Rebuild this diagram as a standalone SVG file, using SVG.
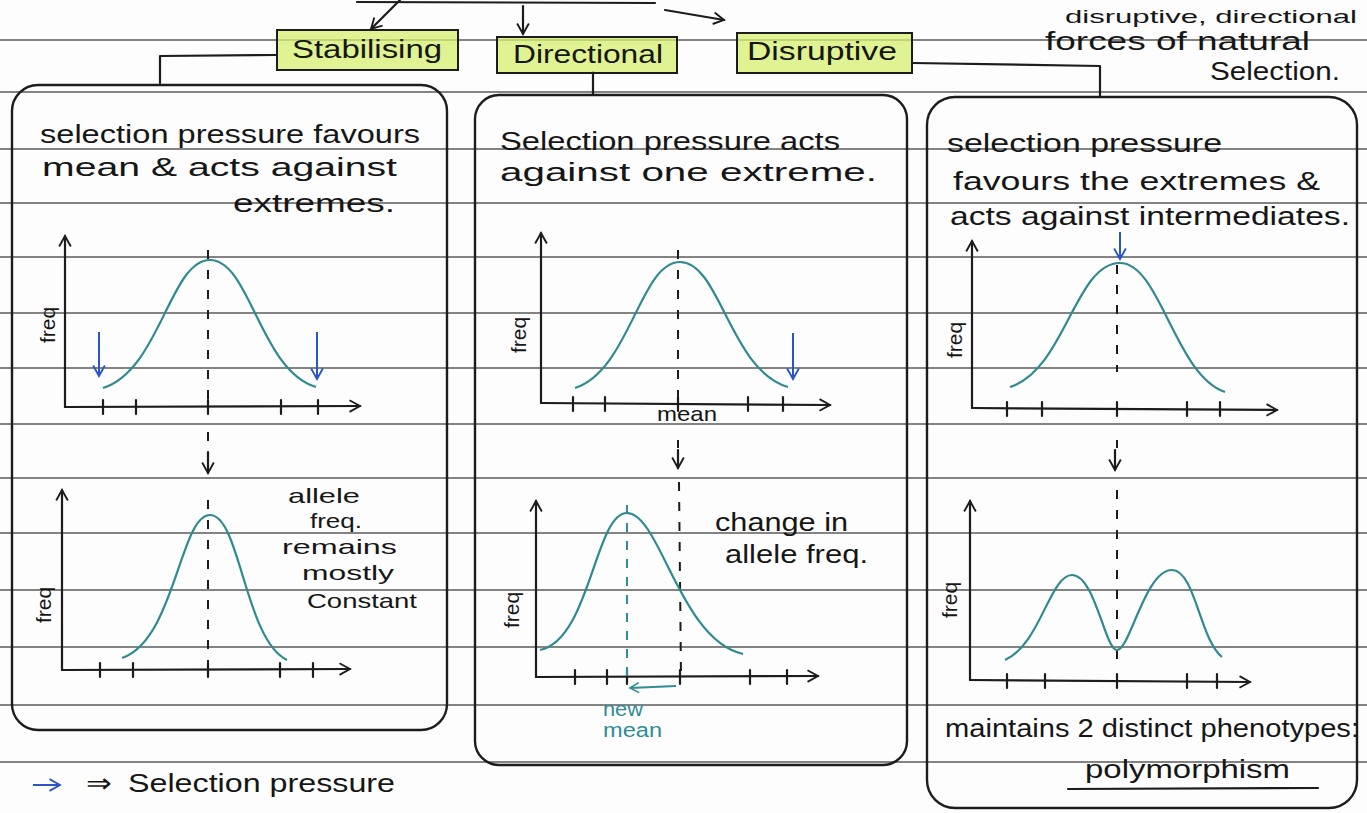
<svg xmlns="http://www.w3.org/2000/svg" width="1367" height="813" viewBox="0 0 1367 813">
<defs>
<style>
.rule{stroke:#5a5a5a;stroke-width:1.4;fill:none}
.ink{stroke:#1c1c1c;stroke-width:2.2;fill:none;stroke-linecap:round;stroke-linejoin:round}
.box{stroke:#1c1c1c;stroke-width:2;fill:#d6ef6e;fill-opacity:0.75}
.panel{stroke:#1c1c1c;stroke-width:2.4;fill:none}
.dash{stroke:#1c1c1c;stroke-width:2;fill:none;stroke-dasharray:9 11}
.tdash{stroke:#2f8d94;stroke-width:2;fill:none;stroke-dasharray:9 9}
.curve{stroke:#2f8a8f;stroke-width:2.2;fill:none}
.blue{stroke:#2a55c8;stroke-width:2;fill:none}
.teal{stroke:#2f8d94;stroke-width:2.2;fill:none}
.t{font-family:"Liberation Sans",Arial,sans-serif;font-size:26px;fill:#161616}
.ts{font-family:"Liberation Sans",Arial,sans-serif;font-size:21px;fill:#161616}
.tl{font-family:"Liberation Sans",Arial,sans-serif;font-size:25px;fill:#161616;text-anchor:middle}
.fq{font-family:"Liberation Sans",Arial,sans-serif;font-size:21px;fill:#161616;text-anchor:middle}
.tt{font-family:"Liberation Sans",Arial,sans-serif;font-size:20px;fill:#2f8d94}
</style>
<marker id="ah" viewBox="0 0 12 12" refX="10" refY="6" markerWidth="14" markerHeight="14" markerUnits="userSpaceOnUse" orient="auto">
<path d="M1,1 L10,6 L1,11" fill="none" stroke="#1c1c1c" stroke-width="1.6"/>
</marker>
<marker id="ahb" viewBox="0 0 12 12" refX="10" refY="6" markerWidth="14" markerHeight="14" markerUnits="userSpaceOnUse" orient="auto">
<path d="M1,1 L10,6 L1,11" fill="none" stroke="#2a55c8" stroke-width="1.6"/>
</marker>
<marker id="aht" viewBox="0 0 12 12" refX="10" refY="6" markerWidth="12" markerHeight="12" markerUnits="userSpaceOnUse" orient="auto">
<path d="M1,1 L10,6 L1,11" fill="none" stroke="#2f8d94" stroke-width="1.6"/>
</marker>
</defs>
<rect width="1367" height="813" fill="#fdfdfd"/>
<g id="ruled-lines">
<line class="rule" x1="0" y1="40" x2="1367" y2="40"/>
<line class="rule" x1="0" y1="92" x2="1367" y2="92"/>
<line class="rule" x1="0" y1="149" x2="1367" y2="149"/>
<line class="rule" x1="0" y1="203" x2="1367" y2="203"/>
<line class="rule" x1="0" y1="257" x2="1367" y2="257"/>
<line class="rule" x1="0" y1="313" x2="1367" y2="313"/>
<line class="rule" x1="0" y1="368" x2="1367" y2="368"/>
<line class="rule" x1="0" y1="424" x2="1367" y2="424"/>
<line class="rule" x1="0" y1="478" x2="1367" y2="478"/>
<line class="rule" x1="0" y1="533" x2="1367" y2="533"/>
<line class="rule" x1="0" y1="590" x2="1367" y2="590"/>
<line class="rule" x1="0" y1="647" x2="1367" y2="647"/>
<line class="rule" x1="0" y1="705" x2="1367" y2="705"/>
<line class="rule" x1="0" y1="762" x2="1367" y2="762"/>
</g>
<g id="connectors">
<line class="ink" x1="357" y1="2" x2="655" y2="3"/>
<line class="ink" x1="400" y1="0" x2="371" y2="29" marker-end="url(#ah)"/>
<line class="ink" x1="523" y1="6" x2="523" y2="34" marker-end="url(#ah)"/>
<line class="ink" x1="665" y1="10" x2="724" y2="20" marker-end="url(#ah)"/>
<polyline class="ink" points="277,55 160,56 160,83"/>
<line class="ink" x1="593" y1="72" x2="593" y2="95"/>
<polyline class="ink" points="913,63 1100,66 1100,97"/>
</g>
<g id="top-note">
<text class="t" x="1065" y="23" style="font-size:19px" textLength="292" lengthAdjust="spacingAndGlyphs">disruptive, directional</text>
<text class="t" x="1045" y="50" textLength="265" lengthAdjust="spacingAndGlyphs">forces of natural</text>
<text class="t" x="1210" y="80" textLength="130" lengthAdjust="spacingAndGlyphs">Selection.</text>
</g>
<g id="node-stabilising">
<rect class="box" x="277" y="30" width="181" height="40"/>
<text class="tl" x="367" y="58" textLength="150" lengthAdjust="spacingAndGlyphs">Stabilising</text>
</g>
<g id="node-directional">
<rect class="box" x="497" y="37" width="180" height="36"/>
<text class="tl" x="588" y="63" textLength="150" lengthAdjust="spacingAndGlyphs">Directional</text>
</g>
<g id="node-disruptive">
<rect class="box" x="737" y="33" width="175" height="40"/>
<text class="tl" x="822" y="60" textLength="150" lengthAdjust="spacingAndGlyphs">Disruptive</text>
</g>
<g id="panel-stabilising">
<rect class="panel" x="12" y="85" width="435" height="645" rx="26"/>
<text class="t" x="40" y="143" textLength="380" lengthAdjust="spacingAndGlyphs">selection pressure favours</text>
<text class="t" x="42" y="176" textLength="355" lengthAdjust="spacingAndGlyphs">mean &amp; acts against</text>
<text class="t" x="233" y="212" textLength="162" lengthAdjust="spacingAndGlyphs">extremes.</text>
<line class="ink" x1="65" y1="407" x2="65" y2="236" marker-end="url(#ah)"/>
<line class="ink" x1="65" y1="407" x2="360" y2="406" marker-end="url(#ah)"/>
<path class="ink" d="M103,400 V414 M136,400 V414 M208,400 V414 M281,400 V414 M318,400 V414"/>
<line class="dash" x1="208" y1="250" x2="208" y2="407"/>
<path class="curve" d="M103,388 C160,370 170,260 210,260 C250,260 260,370 316,387"/>
<line class="blue" x1="99" y1="332" x2="99" y2="376" marker-end="url(#ahb)"/>
<line class="blue" x1="317" y1="332" x2="317" y2="379" marker-end="url(#ahb)"/>
<text class="fq" transform="translate(55,325) rotate(-90)">freq</text>
<line class="dash" x1="208" y1="432" x2="208" y2="446"/>
<line class="ink" x1="208" y1="452" x2="208" y2="473" marker-end="url(#ah)"/>
<line class="ink" x1="62" y1="670" x2="62" y2="490" marker-end="url(#ah)"/>
<line class="ink" x1="62" y1="670" x2="350" y2="669" marker-end="url(#ah)"/>
<path class="ink" d="M100,663 V677 M133,663 V677 M208,663 V677 M280,663 V677 M313,663 V677"/>
<line class="dash" x1="208" y1="500" x2="208" y2="670"/>
<path class="curve" d="M122,658 C175,640 180,515 210,515 C240,515 245,640 287,660"/>
<text class="fq" transform="translate(51,605) rotate(-90)">freq</text>
<text class="ts" x="288" y="503" textLength="72" lengthAdjust="spacingAndGlyphs">allele</text>
<text class="ts" x="310" y="528" textLength="52" lengthAdjust="spacingAndGlyphs">freq.</text>
<text class="ts" x="282" y="554" textLength="115" lengthAdjust="spacingAndGlyphs">remains</text>
<text class="ts" x="302" y="580" textLength="92" lengthAdjust="spacingAndGlyphs">mostly</text>
<text class="ts" x="307" y="608" textLength="110" lengthAdjust="spacingAndGlyphs">Constant</text>
</g>
<g id="panel-directional">
<rect class="panel" x="475" y="95" width="432" height="670" rx="24"/>
<text class="t" x="500" y="150" textLength="340" lengthAdjust="spacingAndGlyphs">Selection pressure acts</text>
<text class="t" x="500" y="181" textLength="377" lengthAdjust="spacingAndGlyphs">against one extreme.</text>
<line class="ink" x1="541" y1="403" x2="541" y2="233" marker-end="url(#ah)"/>
<line class="ink" x1="541" y1="403" x2="830" y2="405" marker-end="url(#ah)"/>
<path class="ink" d="M573,397 V411 M605,397 V411 M678,397 V411 M748,397 V411 M783,397 V411"/>
<line class="dash" x1="678" y1="250" x2="678" y2="403"/>
<path class="curve" d="M575,388 C630,370 640,262 680,262 C720,262 730,370 788,387"/>
<line class="blue" x1="793" y1="333" x2="793" y2="379" marker-end="url(#ahb)"/>
<text class="fq" transform="translate(526,335) rotate(-90)">freq</text>
<text class="ts" x="657" y="421" textLength="60" lengthAdjust="spacingAndGlyphs">mean</text>
<line class="dash" x1="678" y1="440" x2="678" y2="448"/>
<line class="ink" x1="678" y1="450" x2="678" y2="468" marker-end="url(#ah)"/>
<line class="ink" x1="536" y1="677" x2="536" y2="501" marker-end="url(#ah)"/>
<line class="ink" x1="536" y1="677" x2="818" y2="676" marker-end="url(#ah)"/>
<path class="ink" d="M575,670 V684 M607,670 V684 M627,670 V684 M680,670 V684 M750,670 V684 M787,670 V684"/>
<line class="dash" x1="679" y1="482" x2="681" y2="677"/>
<line class="tdash" x1="627" y1="505" x2="627" y2="677"/>
<path class="curve" d="M540,650 C590,640 595,513 627,513 C660,513 680,640 743,654"/>
<text class="fq" transform="translate(519,610) rotate(-90)">freq</text>
<line class="teal" x1="676" y1="686" x2="630" y2="688" marker-end="url(#aht)"/>
<text class="tt" x="603" y="716" textLength="40" lengthAdjust="spacingAndGlyphs">new</text>
<text class="tt" x="603" y="737" textLength="59" lengthAdjust="spacingAndGlyphs">mean</text>
<text class="t" x="715" y="531" textLength="133" lengthAdjust="spacingAndGlyphs">change in</text>
<text class="t" x="725" y="563" textLength="143" lengthAdjust="spacingAndGlyphs">allele freq.</text>
</g>
<g id="panel-disruptive">
<rect class="panel" x="927" y="97" width="430" height="711" rx="28"/>
<text class="t" x="947" y="152" textLength="275" lengthAdjust="spacingAndGlyphs">selection pressure</text>
<text class="t" x="953" y="190" textLength="367" lengthAdjust="spacingAndGlyphs">favours the extremes &amp;</text>
<text class="t" x="950" y="225" textLength="400" lengthAdjust="spacingAndGlyphs">acts against intermediates.</text>
<line class="blue" x1="1120" y1="232" x2="1120" y2="259" marker-end="url(#ahb)"/>
<line class="ink" x1="972" y1="408" x2="972" y2="241" marker-end="url(#ah)"/>
<line class="ink" x1="972" y1="408" x2="1277" y2="410" marker-end="url(#ah)"/>
<path class="ink" d="M1007,402 V416 M1042,402 V416 M1117,402 V416 M1187,402 V416 M1220,402 V416"/>
<line class="dash" x1="1117" y1="265" x2="1117" y2="372"/>
<path class="curve" d="M1010,387 C1065,370 1075,263 1120,263 C1160,263 1175,375 1225,392"/>
<text class="fq" transform="translate(962,340) rotate(-90)">freq</text>
<line class="dash" x1="1117" y1="440" x2="1117" y2="448"/>
<line class="ink" x1="1115" y1="450" x2="1115" y2="470" marker-end="url(#ah)"/>
<line class="ink" x1="970" y1="680" x2="970" y2="501" marker-end="url(#ah)"/>
<line class="ink" x1="970" y1="680" x2="1250" y2="682" marker-end="url(#ah)"/>
<path class="ink" d="M1007,674 V688 M1045,674 V688 M1117,674 V688 M1187,674 V688 M1217,674 V688"/>
<line class="dash" x1="1117" y1="490" x2="1117" y2="665"/>
<path class="curve" d="M1005,660 C1040,645 1050,575 1072,575 C1095,575 1105,650 1117,650 C1130,650 1145,570 1172,570 C1195,570 1200,640 1222,657"/>
<text class="fq" transform="translate(957,600) rotate(-90)">freq</text>
<text class="t" x="945" y="737" textLength="414" lengthAdjust="spacingAndGlyphs">maintains 2 distinct phenotypes:</text>
<text class="t" x="1085" y="778" textLength="205" lengthAdjust="spacingAndGlyphs">polymorphism</text>
<line class="ink" x1="1068" y1="789" x2="1318" y2="788"/>
</g>
<g id="legend">
<line class="blue" x1="33" y1="785" x2="60" y2="785" marker-end="url(#ahb)"/>
<text class="t" x="86" y="792" textLength="26" lengthAdjust="spacingAndGlyphs">⇒</text>
<text class="t" x="128" y="792" textLength="267" lengthAdjust="spacingAndGlyphs">Selection pressure</text>
</g>
</svg>
